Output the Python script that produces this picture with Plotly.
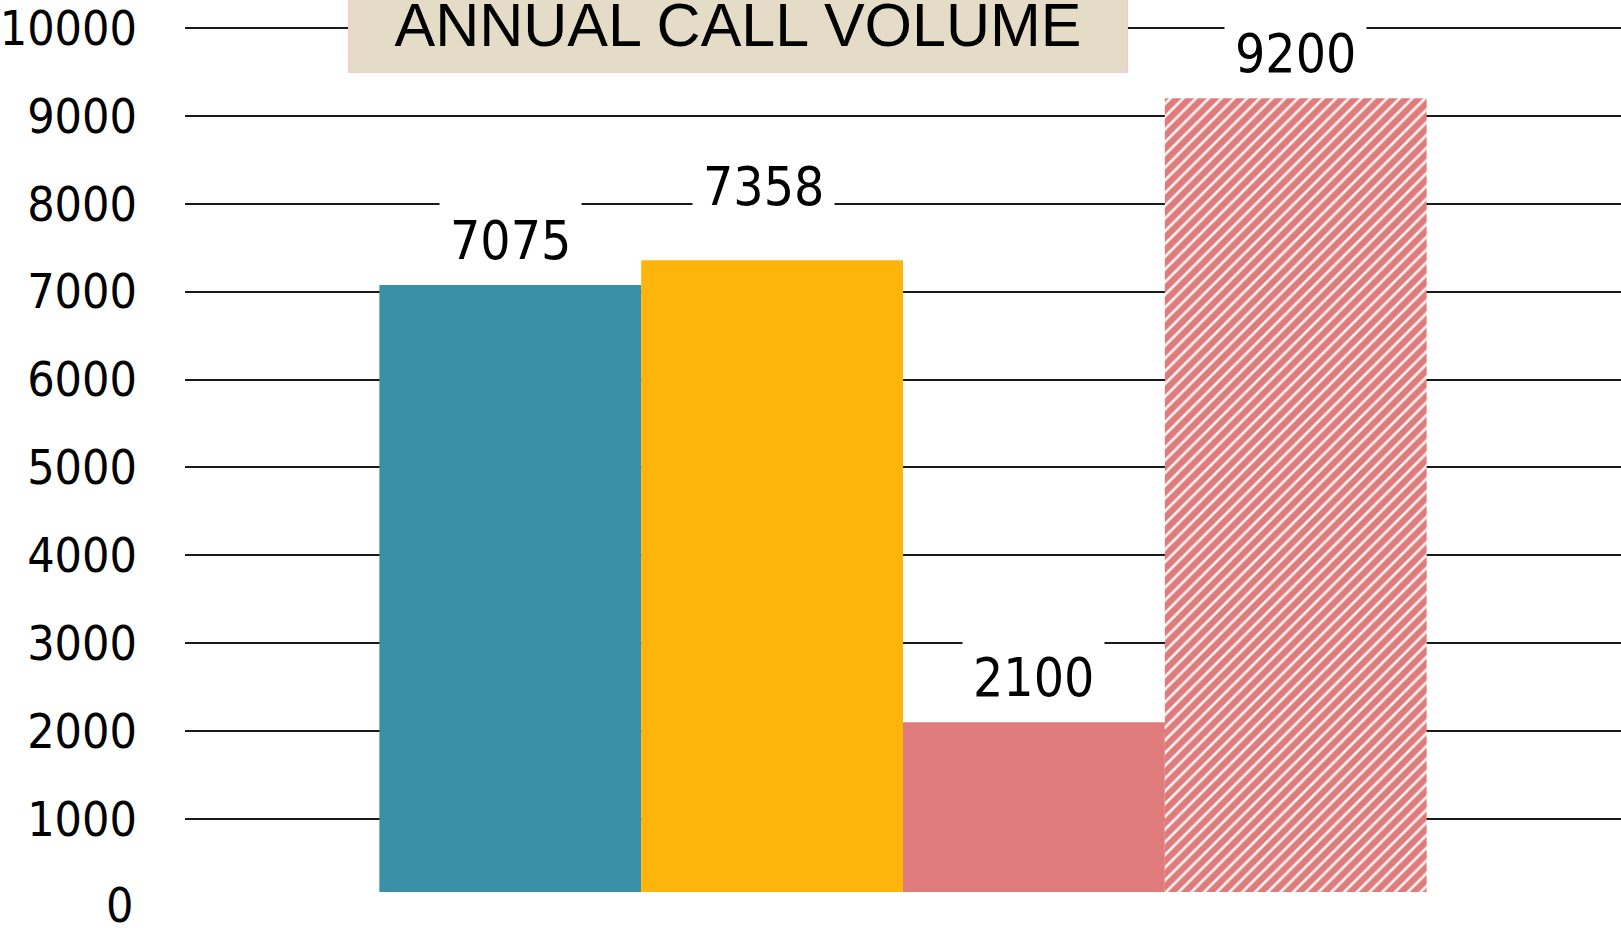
import plotly.graph_objects as go

# ---- data ----
category = ["Annual call volume"]
series_names = ["Year 1", "Year 2", "Year 3", "Projected"]
series_values = [7075, 7358, 2100, 9200]
series_colors = ["#3A91A7", "#FDB50C", "#E07B7B", "#E07B7B"]
tick_values = [1000, 2000, 3000, 4000, 5000, 6000, 7000, 8000, 9000, 10000]
tick_labels = ["1000", "2000", "3000", "4000", "5000", "6000", "7000", "8000", "9000", "10000"]
zero_value = 0
zero_label = "0"
title_text = "ANNUAL CALL VOLUME"

NUM_FONT = "Liberation Sans Narrow, DejaVu Sans Condensed, Liberation Sans, sans-serif"
TITLE_FONT = "Liberation Sans, Arial, sans-serif"
BARGAP = 0.2707
Y_RANGE = [170, 10295]
W, H = 1621, 928
M_L, M_R, M_T, M_B = 184, 0, 0, 36

fig = go.Figure()
for i, (name, val, col) in enumerate(zip(series_names, series_values, series_colors)):
    marker = dict(color=col, line=dict(width=0))
    if i == 3:
        marker["pattern"] = dict(shape="/", bgcolor=col, fgcolor="#F3F1F1",
                                 size=9, solidity=0.3, fillmode="replace")
    fig.add_trace(go.Bar(x=category, y=[val], name=name, marker=marker,
                         showlegend=False, hoverinfo="skip"))

# value labels with white boxes (hide gridlines behind them)
n = len(series_values)
group_w = 1 - BARGAP
x_shift_extra = [0, -9, 0, 0]
y_shift_extra = [0, 29, 0, 0]
for i, val in enumerate(series_values):
    xc = -0.5 * group_w + (i + 0.5) * group_w / n
    fig.add_annotation(x=xc, y=val, xref="x", yref="y", text=str(val),
                       showarrow=False, yanchor="bottom", xanchor="center",
                       yshift=3 + y_shift_extra[i], xshift=x_shift_extra[i],
                       bgcolor="white", borderpad=10,
                       font=dict(family=NUM_FONT, size=53, color="black"))

# "0" label: it lies below the bottom of the visible value range
zero_paper_y = (zero_value - Y_RANGE[0]) / (Y_RANGE[1] - Y_RANGE[0])
fig.add_annotation(x=0, y=zero_paper_y, xref="paper", yref="paper", text=zero_label,
                   showarrow=False, xanchor="right", yanchor="middle",
                   xshift=-50, yshift=2, font=dict(family=NUM_FONT, size=48, color="black"))

# title box
plot_h = H - M_T - M_B
fig.add_annotation(x=0.385, y=(plot_h - 71) / plot_h, xref="paper", yref="paper",
                   text=title_text, showarrow=False, xanchor="center", yanchor="bottom",
                   width=752, height=110, valign="bottom", borderpad=12,
                   bgcolor="#E5DCC7", bordercolor="#F0CFC8", borderwidth=2,
                   font=dict(family=TITLE_FONT, size=61, color="black"))

fig.update_layout(
    width=W, height=H,
    margin=dict(l=M_L, r=M_R, t=M_T, b=M_B),
    paper_bgcolor="white", plot_bgcolor="white",
    barmode="group", bargap=BARGAP, bargroupgap=0,
    showlegend=False,
    xaxis=dict(showticklabels=False, showgrid=False, zeroline=False, showline=False,
               range=[-0.5, 0.5]),
    yaxis=dict(range=Y_RANGE, tickvals=tick_values, ticktext=tick_labels,
               showgrid=True, gridcolor="#1A1A1A", gridwidth=1.6,
               zeroline=False, showline=False, ticks="",
               ticklabelstandoff=47, ticklabeloverflow="allow",
               tickfont=dict(family=NUM_FONT, size=48, color="black")),
)

fig.write_html("out.html", config={"displayModeBar": False},
               post_script="document.body.style.margin='0';document.body.style.overflow='hidden';")
